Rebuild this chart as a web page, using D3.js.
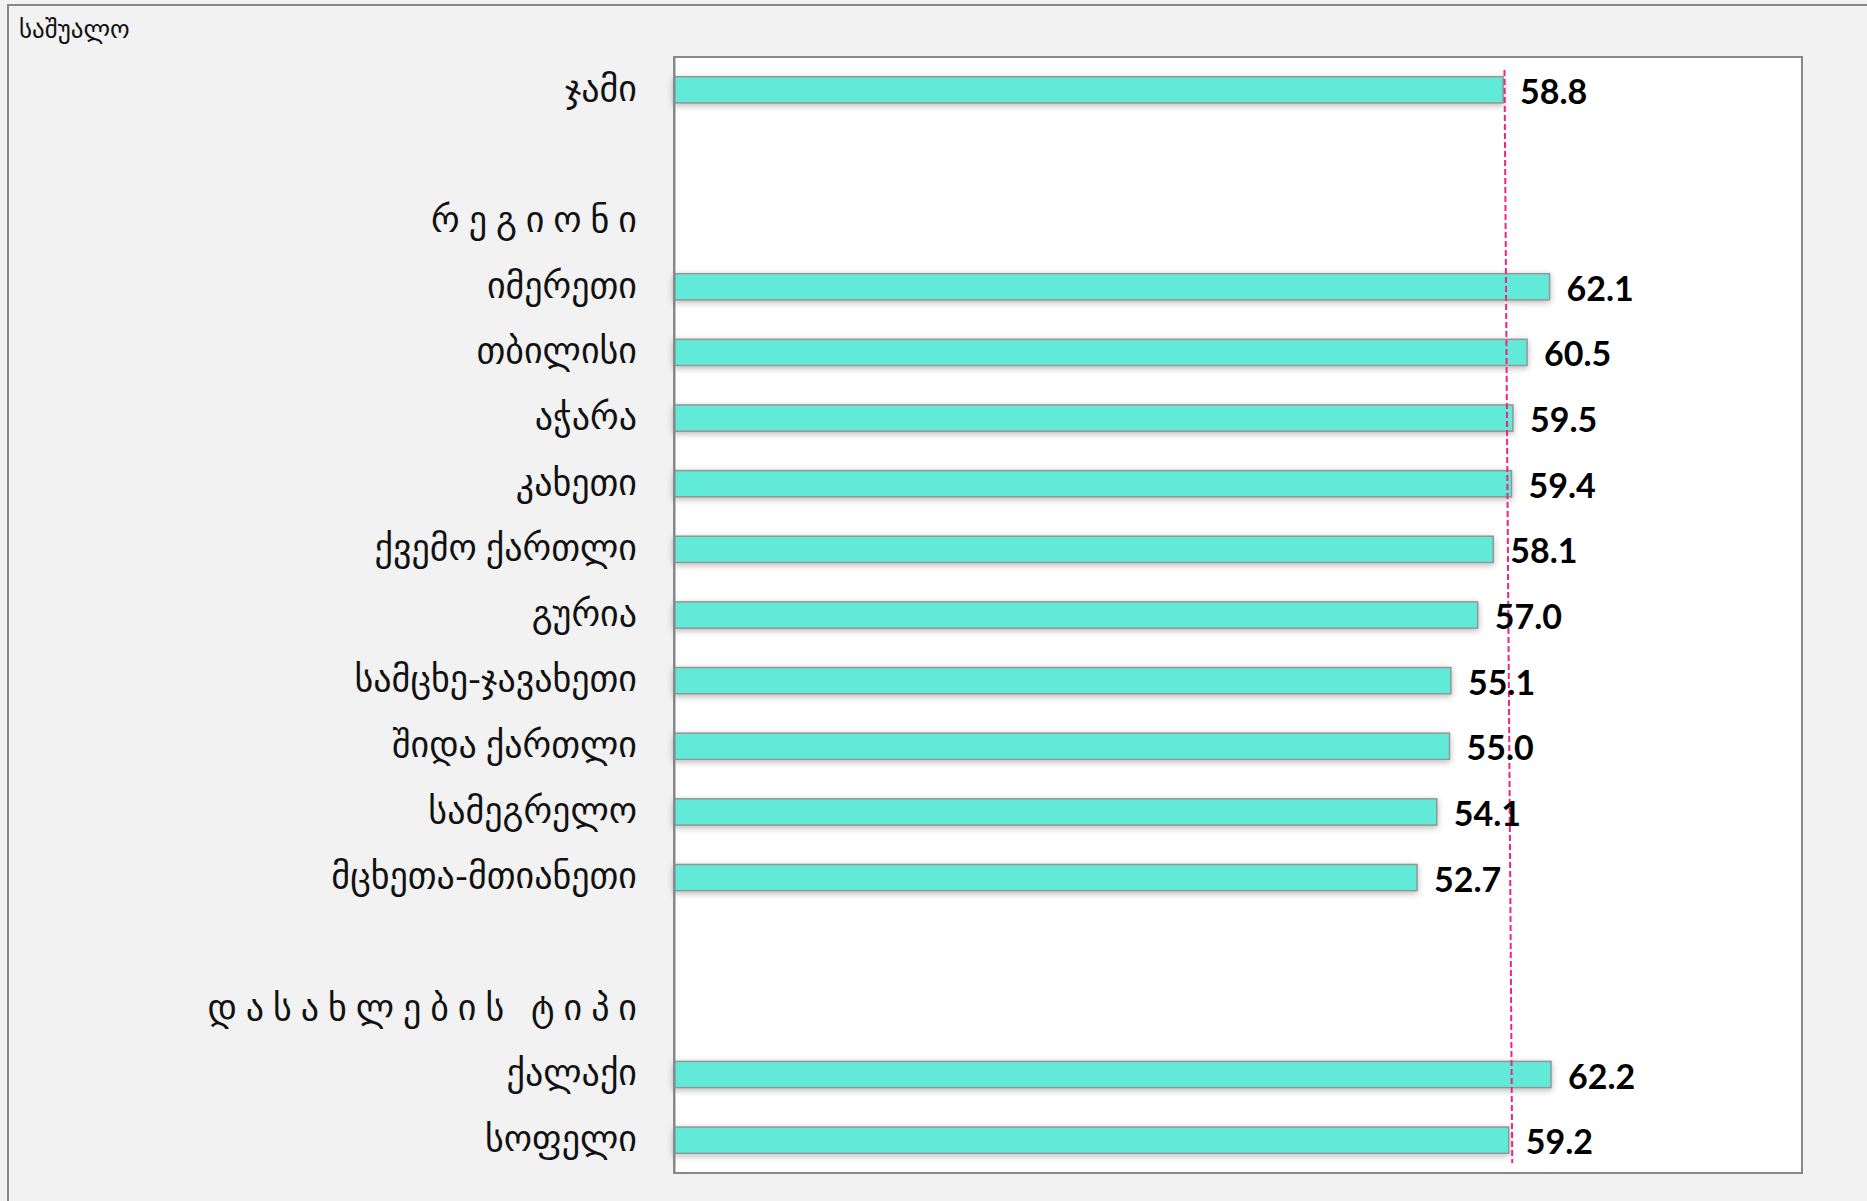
<!DOCTYPE html>
<html>
<head>
<meta charset="utf-8">
<script src="https://cdn.jsdelivr.net/npm/d3@7"></script>
<style>
  html, body { margin: 0; padding: 0; background: #f2f2f2; }
  svg { display: block; }
  text { white-space: pre; }
</style>
</head>
<body>
<svg id="chart" width="1867" height="1201"></svg>
<script>
// Rows from top to bottom; empty strings are spacer rows, spaced strings are group headings
const categories = [
  "ჯამი", "", "რ ე გ ი ო ნ ი",
  "იმერეთი", "თბილისი", "აჭარა", "კახეთი", "ქვემო ქართლი", "გურია",
  "სამცხე-ჯავახეთი", "შიდა ქართლი", "სამეგრელო", "მცხეთა-მთიანეთი",
  "", "დ ა ს ა ხ ლ ე ბ ი ს   ტ ი პ ი", "ქალაქი", "სოფელი"
];
const values = [
  58.8, null, null,
  62.1, 60.5, 59.5, 59.4, 58.1, 57.0,
  55.1, 55.0, 54.1, 52.7,
  null, null, 62.2, 59.2
];
// Average reference line (drawn slightly slanted from top to bottom)
const averageLine = [58.9, 59.45];
const xDomain = [0, 80];
const title = "საშუალო";

const svg = d3.select("#chart");
const W = 1867, H = 1201;
const plot = { left: 674, right: 1802, top: 57, bottom: 1173 };

// outer frame
svg.append("rect").attr("width", W).attr("height", H).attr("fill", "#f2f2f2");
svg.append("line").attr("x1", 8).attr("x2", W).attr("y1", 5).attr("y2", 5)
  .attr("stroke", "#888").attr("stroke-width", 2);
svg.append("line").attr("x1", 8).attr("x2", 8).attr("y1", 4).attr("y2", H)
  .attr("stroke", "#888").attr("stroke-width", 2);

svg.append("text").attr("x", 19).attr("y", 38)
  .attr("font-family", "DejaVu Sans").attr("font-size", 25).attr("fill", "#111")
  .text(title);

const defs = svg.append("defs");
const shadow = defs.append("filter").attr("id", "barShadow")
  .attr("x", "-5%").attr("y", "-50%").attr("width", "110%").attr("height", "200%");
shadow.append("feDropShadow").attr("dx", 0).attr("dy", 2).attr("stdDeviation", 3)
  .attr("flood-color", "#000").attr("flood-opacity", 0.28);

// plot area
svg.append("rect")
  .attr("x", plot.left).attr("y", plot.top)
  .attr("width", plot.right - plot.left).attr("height", plot.bottom - plot.top)
  .attr("fill", "#fff").attr("stroke", "#888").attr("stroke-width", 2);

const x = d3.scaleLinear().domain(xDomain).range([plot.left, plot.right]);
const y = d3.scaleBand().domain(d3.range(categories.length))
  .range([plot.top, plot.bottom]).paddingInner(0.6).paddingOuter(0.3);

const rows = categories.map((c, i) => ({ i, name: c, value: values[i] }));
const withBars = rows.filter(d => d.value != null);

svg.append("g").selectAll("rect").data(withBars).join("rect")
  .attr("x", x(0)).attr("y", d => y(d.i))
  .attr("width", d => x(d.value) - x(0)).attr("height", y.bandwidth())
  .attr("fill", "#60ead7").attr("stroke", "#959595").attr("stroke-width", 1.5)
  .attr("filter", "url(#barShadow)");

// category axis
const axis = svg.append("g").attr("transform", `translate(${plot.left},0)`)
  .call(d3.axisLeft(y).tickSize(0).tickPadding(37).tickFormat(i => categories[i]));
axis.select(".domain").attr("stroke", "#888").attr("stroke-width", 2);
axis.selectAll("text")
  .attr("font-family", "DejaVu Sans").attr("font-size", 36).attr("fill", "#111")
  .attr("word-spacing", "-2.5px")
  .attr("dy", "0.3em");

// average line
svg.append("line")
  .attr("x1", x(averageLine[0])).attr("x2", x(averageLine[1]))
  .attr("y1", plot.top + 13).attr("y2", plot.bottom - 10)
  .attr("stroke", "#f0247f").attr("stroke-width", 2).attr("stroke-dasharray", "6,3");

// value labels
svg.append("g").selectAll("text").data(withBars).join("text")
  .attr("x", d => x(d.value) + 17).attr("y", d => y(d.i) + y.bandwidth() / 2 + 14)
  .attr("font-family", "Lato").attr("font-weight", 700).attr("font-size", 34)
  .attr("fill", "#000")
  .text(d => d3.format(".1f")(d.value));
</script>
</body>
</html>
